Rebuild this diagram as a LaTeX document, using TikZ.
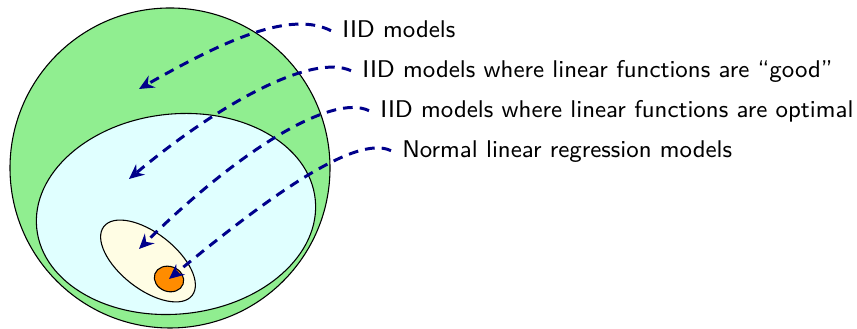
\documentclass[tikz,border=0pt]{standalone}
\usepackage{tikz}
\usetikzlibrary{arrows.meta, positioning}
\definecolor{setgreen}{RGB}{144,238,144}
\definecolor{setcyan}{RGB}{224,255,255}
\definecolor{setyellow}{RGB}{255,253,228}
\definecolor{setorange}{RGB}{255,140,0}
\definecolor{arrowblue}{RGB}{0,0,139}

\begin{document}
\begin{tikzpicture}[x=0.37pt,y=0.37pt,
  every node/.style={font=\sffamily\fontsize{8.95}{11}\selectfont, inner sep=4pt, anchor=base west, text height=1.5ex, text depth=.25ex},
  set/.style={draw=black, line width=0.4pt},
  pointer/.style={draw=arrowblue, line width=1.1pt, dash pattern=on 3.6pt off 2.6pt, -{Stealth[length=5.5pt,width=5pt]}}]
\useasboundingbox (0,0) rectangle (857,329);
  \draw[set, fill=setgreen] (170,161) circle (160);
  \draw[set, fill=setcyan, rotate around={6:(176,115)}] (176,115) ellipse (140 and 100);
  \draw[set, fill=setyellow, rotate around={-38:(148,68)}] (148,68) ellipse (56 and 28);
  \draw[set, fill=setorange, rotate around={-20:(169,50)}] (169,50) ellipse (15 and 12.5);
  % where the arrows land
  \coordinate (iidpt) at (139,240);
  \coordinate (goodpt) at (129,150);
  \coordinate (optpt) at (139,80);
  \coordinate (normpt) at (169,50);
  \node (iid) at (331,291) {IID models};
  \node (good) at (351,251) {IID models where linear functions are ``good''};
  \node (opt) at (369,211) {IID models where linear functions are optimal};
  \node (norm) at (391,171) {Normal linear regression models};
  \draw[pointer] (iid.west) .. controls (292,318) and (230,292) .. (iidpt);
  \draw[pointer] (good.west) .. controls (312,276) and (220,226) .. (goodpt);
  \draw[pointer] (opt.west) .. controls (333,236) and (240,180) .. (optpt);
  \draw[pointer] (norm.west) .. controls (355,196) and (262,127) .. (normpt);
\end{tikzpicture}
\end{document}
